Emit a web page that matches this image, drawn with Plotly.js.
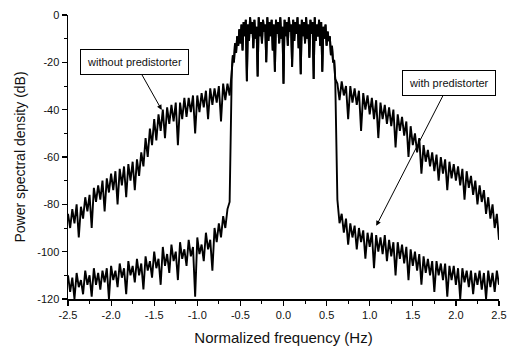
<!DOCTYPE html>
<html>
<head>
<meta charset="utf-8">
<script src="https://cdn.plot.ly/plotly-3.0.1.min.js"></script>
<style>
html,body{margin:0;padding:0;background:#fff;}
#chart{width:508px;height:347px;}
</style>
</head>
<body>
<div id="chart"></div>
<script>
// Sampling of the normalized frequency axis (Hz)
var sideStep = 0.025;
var bandStep = 0.0125;
var leftStart = -2.5;    // left sideband: -2.5 .. -0.625
var bandStart = -0.6;    // main band: -0.6 .. 0.6
var rightStart = 0.625;  // right sideband: 0.625 .. 2.5

// Power spectral density (dB)
var leftWithout = [-84,-90,-82,-88,-80,-94,-81,-86,-77,-83,-76,-90,-73,-79,-72,-78,-70,-83,-69,-75,
  -67,-74,-66,-80,-65,-72,-64,-77,-63,-70,-62,-74,-61,-68,-58,-64,-52,-60,-48,-55,
  -44,-53,-42,-49,-40,-52,-39,-46,-38,-45,-37,-55,-37,-44,-35,-43,-35,-41,-34,-50,
  -34,-41,-33,-39,-32,-44,-31,-38,-31,-37,-30,-45,-29,-36,-29,-34];

var leftWith = [-110,-117,-111,-120,-109,-115,-112,-118,-108,-114,-110,-119,-107,-114,-109,-116,-108,-113,-107,-120,
  -106,-112,-108,-115,-105,-111,-107,-118,-104,-110,-106,-113,-103,-110,-105,-116,-102,-108,-104,-111,
  -100,-107,-103,-114,-98,-106,-101,-109,-97,-104,-100,-112,-96,-103,-99,-106,-95,-102,-98,-119,
  -94,-101,-97,-104,-92,-99,-95,-108,-90,-96,-88,-94,-85,-90,-82,-79];

var mainBand = [-24,-17,-20,-12,-16,-9,-13,-6,-12,-4,-15,-3,-9,-2,-28,-4,-11,-1,-8,-3,
  -14,-2,-10,-5,-26,-1,-9,-3,-12,-2,-7,-4,-20,-1,-11,-3,-9,-2,-15,-4,
  -24,-2,-8,-3,-12,-1,-10,-5,-29,-2,-9,-3,-13,-1,-7,-4,-22,-2,-11,-3,
  -8,-1,-14,-4,-25,-2,-9,-3,-12,-1,-10,-4,-18,-2,-8,-3,-27,-1,-11,-4,
  -9,-2,-13,-3,-24,-5,-10,-4,-13,-7,-11,-9,-17,-13,-20,-19,-27];

var rightWithout = [-29,-36,-28,-34,-30,-44,-30,-37,-31,-38,-32,-49,-33,-40,-34,-42,-35,-44,-36,-52,
  -37,-44,-38,-46,-39,-47,-40,-56,-42,-49,-43,-51,-45,-60,-47,-55,-50,-58,-52,-67,
  -55,-62,-57,-64,-58,-66,-59,-70,-60,-67,-61,-74,-62,-69,-63,-70,-64,-72,-65,-78,
  -66,-73,-68,-76,-70,-80,-72,-79,-74,-84,-77,-86,-80,-90,-84,-95];

var rightWith = [-78,-88,-84,-92,-86,-97,-88,-94,-89,-99,-90,-96,-91,-103,-92,-98,-92,-107,-93,-100,
  -94,-101,-93,-104,-95,-102,-96,-110,-96,-103,-97,-105,-98,-112,-99,-106,-100,-108,-101,-114,
  -102,-109,-103,-110,-104,-117,-104,-110,-105,-112,-105,-119,-106,-112,-106,-114,-107,-120,-107,-113,
  -108,-115,-108,-118,-109,-114,-108,-116,-109,-120,-108,-115,-109,-117,-108,-114];

var xTickVals = [-2.5,-2.0,-1.5,-1.0,-0.5,0.0,0.5,1.0,1.5,2.0,2.5];
var xTickText = ["-2.5","-2.0","-1.5","-1.0","-0.5","0.0","0.5","1.0","1.5","2.0","2.5"];
var yTickVals = [0,-20,-40,-60,-80,-100,-120];
var yTickText = ["0","-20","-40","-60","-80","-100","-120"];

var labelWithout = "without predistorter";
var labelWith = "with predistorter";

function grid(start, step, n) {
  var out = [];
  for (var i = 0; i < n; i++) out.push(Math.round((start + i * step) * 10000) / 10000);
  return out;
}

var xLeft = grid(leftStart, sideStep, leftWithout.length);
var xBand = grid(bandStart, bandStep, mainBand.length);
var xRight = grid(rightStart, sideStep, rightWithout.length);
var xAll = xLeft.concat(xBand, xRight);

var traceLine = {color: '#000', width: 1.9};
var traces = [
  {x: xAll, y: leftWithout.concat(mainBand, rightWithout), type: 'scatter', mode: 'lines',
   line: traceLine, name: labelWithout, hoverinfo: 'skip'},
  {x: xAll, y: leftWith.concat(mainBand, rightWith), type: 'scatter', mode: 'lines',
   line: traceLine, name: labelWith, hoverinfo: 'skip'}
];

var fontFam = 'Arial, "Liberation Sans", Helvetica, sans-serif';

var layout = {
  width: 508, height: 347,
  margin: {l: 68, r: 9, t: 15, b: 48},
  paper_bgcolor: '#fff', plot_bgcolor: '#fff',
  showlegend: false,
  font: {family: fontFam, color: '#111', size: 11},
  xaxis: {
    range: [-2.5, 2.5], tickvals: xTickVals, ticktext: xTickText,
    ticks: 'outside', ticklen: 5, tickwidth: 1.2, tickcolor: '#000',
    minor: {dtick: 0.25, ticks: 'outside', ticklen: 3, tickwidth: 1, tickcolor: '#000'},
    showline: true, linecolor: '#000', linewidth: 1.5,
    showgrid: false, zeroline: false,
    tickfont: {size: 11, color: '#111'},
    title: {text: 'Normalized frequency (Hz)', font: {size: 15, color: '#111'}, standoff: 13}
  },
  yaxis: {
    range: [-120, 0], tickvals: yTickVals, ticktext: yTickText,
    ticks: 'outside', ticklen: 5, tickwidth: 1.2, tickcolor: '#000',
    minor: {dtick: 10, ticks: 'outside', ticklen: 3, tickwidth: 1, tickcolor: '#000'},
    showline: true, linecolor: '#000', linewidth: 1.5,
    showgrid: false, zeroline: false,
    tickfont: {size: 11, color: '#111'},
    title: {text: 'Power spectral density (dB)', font: {size: 14, color: '#111'}, standoff: 8}
  },
  annotations: [
    {x: -1.413, y: -40.1, xref: 'x', yref: 'y', text: labelWithout,
     showarrow: true, ax: -27, ay: -48, arrowhead: 2, arrowsize: 1, arrowwidth: 1, arrowcolor: '#000',
     bordercolor: '#000', borderwidth: 1, borderpad: 6, bgcolor: '#fff',
     font: {size: 11, color: '#111'}},
    {x: 1.076, y: -89.1, xref: 'x', yref: 'y', text: labelWith,
     showarrow: true, ax: 73, ay: -142.5, arrowhead: 2, arrowsize: 1, arrowwidth: 1, arrowcolor: '#000',
     bordercolor: '#000', borderwidth: 1, borderpad: 6, bgcolor: '#fff',
     font: {size: 11, color: '#111'}}
  ]
};

Plotly.newPlot('chart', traces, layout, {staticPlot: true, displayModeBar: false});
</script>
</body>
</html>
